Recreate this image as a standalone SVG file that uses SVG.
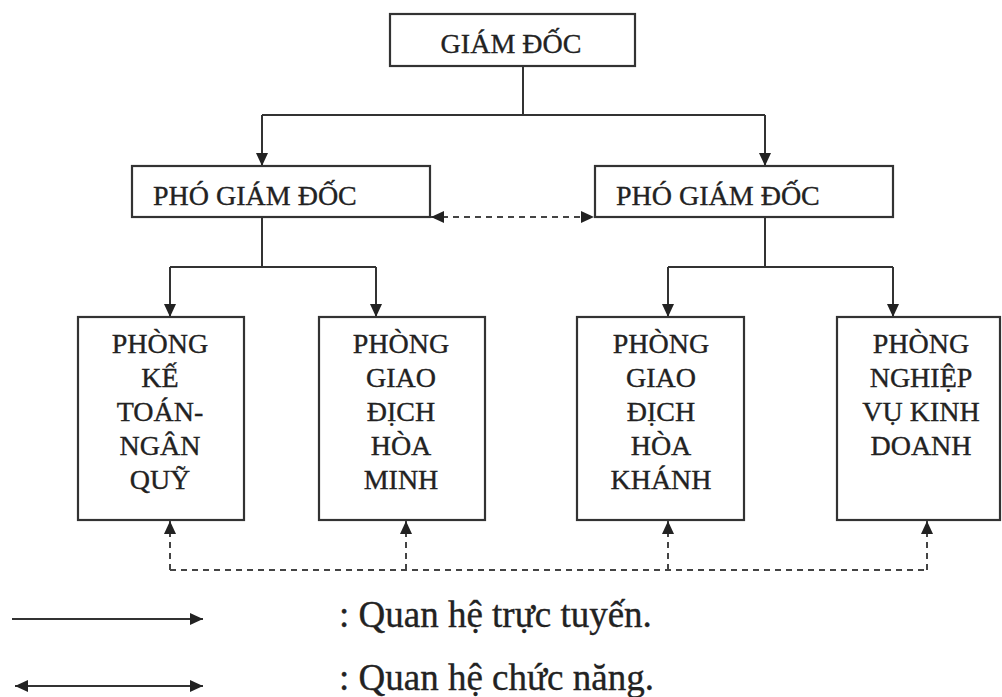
<svg xmlns="http://www.w3.org/2000/svg" width="1002" height="697" viewBox="0 0 1002 697">
<style>
.box{fill:#fff;stroke:#333;stroke-width:2.2}
.t{font-family:"Liberation Serif","Times New Roman",serif;font-size:28px;fill:#222;stroke:#222;stroke-width:0.35}
.c{text-anchor:middle}
.ln{fill:none;stroke:#333;stroke-width:2}
.ds{fill:none;stroke:#444;stroke-width:2;stroke-dasharray:6,5}
.lg{font-family:"Liberation Serif","Times New Roman",serif;font-size:37px;fill:#222;stroke:#222;stroke-width:0.35}
</style>
<defs>
<marker id="ah" markerUnits="userSpaceOnUse" markerWidth="14" markerHeight="12" refX="13" refY="6" orient="auto-start-reverse">
<path d="M0,0 L13,6 L0,12 z" fill="#222"/>
</marker>
</defs>
<rect width="1002" height="697" fill="#fff"/>
<g id="connectors">
<path class="ln" d="M523,66 V115"/>
<path class="ln" d="M262,115 H765"/>
<path class="ln" d="M262,115 V166" marker-end="url(#ah)"/>
<path class="ln" d="M765,115 V166" marker-end="url(#ah)"/>
<path class="ds" d="M431,217 H594" marker-start="url(#ah)" marker-end="url(#ah)"/>
<path class="ln" d="M262,217 V267"/>
<path class="ln" d="M170,267 H376"/>
<path class="ln" d="M170,267 V317" marker-end="url(#ah)"/>
<path class="ln" d="M376,267 V317" marker-end="url(#ah)"/>
<path class="ln" d="M765,217 V267"/>
<path class="ln" d="M668,267 H893"/>
<path class="ln" d="M668,267 V317" marker-end="url(#ah)"/>
<path class="ln" d="M893,267 V317" marker-end="url(#ah)"/>
<path class="ds" d="M170,570 H927"/>
<path class="ds" d="M170,570 V521" marker-end="url(#ah)"/>
<path class="ds" d="M406,570 V521" marker-end="url(#ah)"/>
<path class="ds" d="M668,570 V521" marker-end="url(#ah)"/>
<path class="ds" d="M927,570 V521" marker-end="url(#ah)"/>
</g>
<g id="giam-doc">
<rect class="box" x="390" y="14" width="245" height="52"/>
<text class="t c" x="511" y="53">GIÁM ĐỐC</text>
</g>
<g id="pho-giam-doc-1">
<rect class="box" x="132" y="166" width="298" height="51"/>
<text class="t" x="153" y="205">PHÓ GIÁM ĐỐC</text>
</g>
<g id="pho-giam-doc-2">
<rect class="box" x="595" y="166" width="298" height="51"/>
<text class="t" x="616" y="205">PHÓ GIÁM ĐỐC</text>
</g>
<g id="phong-ke-toan">
<rect class="box" x="78" y="317" width="166" height="203"/>
<text class="t c" x="160"><tspan x="160" y="353">PHÒNG</tspan><tspan x="160" y="387">KẾ</tspan><tspan x="160" y="421">TOÁN-</tspan><tspan x="160" y="455">NGÂN</tspan><tspan x="160" y="489">QUỸ</tspan></text>
</g>
<g id="phong-gd-hoa-minh">
<rect class="box" x="319" y="317" width="166" height="203"/>
<text class="t c" x="401"><tspan x="401" y="353">PHÒNG</tspan><tspan x="401" y="387">GIAO</tspan><tspan x="401" y="421">ĐỊCH</tspan><tspan x="401" y="455">HÒA</tspan><tspan x="401" y="489">MINH</tspan></text>
</g>
<g id="phong-gd-hoa-khanh">
<rect class="box" x="577" y="317" width="167" height="203"/>
<text class="t c" x="661"><tspan x="661" y="353">PHÒNG</tspan><tspan x="661" y="387">GIAO</tspan><tspan x="661" y="421">ĐỊCH</tspan><tspan x="661" y="455">HÒA</tspan><tspan x="661" y="489">KHÁNH</tspan></text>
</g>
<g id="phong-nghiep-vu">
<rect class="box" x="837" y="317" width="163" height="203"/>
<text class="t c" x="921"><tspan x="921" y="353">PHÒNG</tspan><tspan x="921" y="387">NGHIỆP</tspan><tspan x="921" y="421">VỤ KINH</tspan><tspan x="921" y="455">DOANH</tspan></text>
</g>
<g id="legend">
<path class="ln" d="M12,619 H203" marker-end="url(#ah)"/>
<path class="ln" stroke-width="1.6" d="M15,686 H203" marker-start="url(#ah)" marker-end="url(#ah)"/>
<text class="lg" x="339" y="627">: Quan hệ trực tuyến.</text>
<text class="lg" x="339" y="690">: Quan hệ chức năng.</text>
</g>
</svg>
